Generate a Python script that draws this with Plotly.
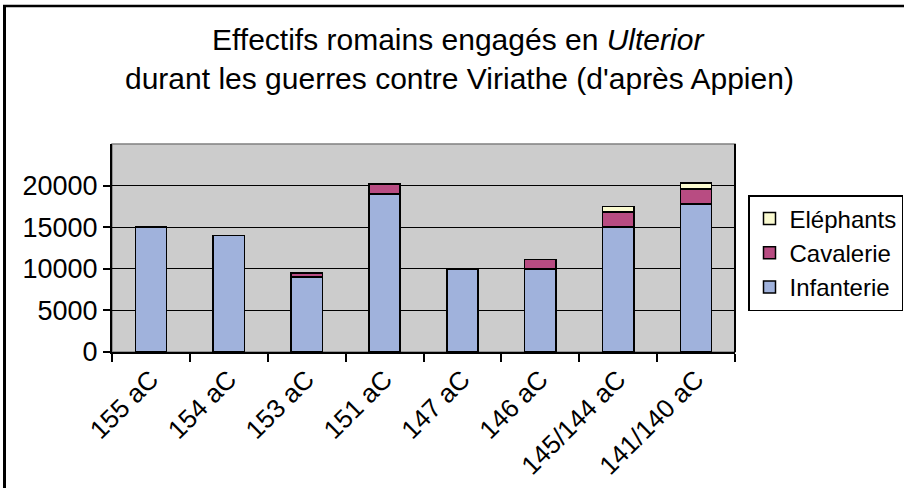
import plotly.graph_objects as go

categories = ["155 aC", "154 aC", "153 aC", "151 aC", "147 aC", "146 aC", "145/144 aC", "141/140 aC"]
infanterie = [15000, 14000, 9000, 19000, 10000, 10000, 15000, 17800]
cavalerie = [0, 0, 500, 1200, 0, 1100, 1800, 1800]
elephants = [0, 0, 0, 0, 0, 0, 700, 700]
y_ticks = [0, 5000, 10000, 15000, 20000]
y_tick_labels = ["0", "5000", "10000", "15000", "20000"]

FONT = "Liberation Sans, Arial, sans-serif"
L, R, T, B = 112, 735, 144, 352
W, H = 904, 488
pw, ph = R - L, B - T

def px_x(x):
    return (x - L) / pw

def px_y(y):
    return (B - y) / ph

fig = go.Figure()
line = dict(color="black", width=1.5)
fig.add_trace(go.Bar(x=categories, y=infanterie, name="Infanterie",
                     marker=dict(color="#A0B2DC", line=line)))
fig.add_trace(go.Bar(x=categories, y=cavalerie, name="Cavalerie",
                     marker=dict(color="#B84C82", line=line)))
fig.add_trace(go.Bar(x=categories, y=elephants, name="Eléphants",
                     marker=dict(color="#FAFAD0", line=line)))

fig.update_layout(
    width=W, height=H,
    margin=dict(l=L, r=W - R, t=T, b=H - B, autoexpand=False),
    paper_bgcolor="white",
    plot_bgcolor="#CCCCCC",
    barmode="stack",
    bargap=0.6,
    font=dict(family=FONT, size=24, color="black"),
    showlegend=True,
    legend=dict(
        x=px_x(748), y=px_y(195), xanchor="left", yanchor="top",
        traceorder="reversed",
        bordercolor="black", borderwidth=1.5, bgcolor="white",
        font=dict(family=FONT, size=24, color="black"),
        itemwidth=30,
    ),
    xaxis=dict(
        type="category", tickson="boundaries", ticks="outside", ticklen=8,
        tickcolor="black", tickwidth=1.5, tickangle=-45, automargin=False,
        showline=True, linecolor="black", linewidth=1.5, showgrid=False,
        tickfont=dict(family=FONT, size=26),
    ),
    yaxis=dict(
        range=[0, 25000], tickvals=y_ticks, ticktext=y_tick_labels,
        ticks="outside", ticklen=7, automargin=False,
        tickcolor="black", tickwidth=1.5,
        showline=True, linecolor="black", linewidth=2,
        showgrid=True, gridcolor="black", gridwidth=1,
        zeroline=False, tickfont=dict(family=FONT, size=27),
    ),
    annotations=[
        dict(text="Effectifs romains engagés en <i>Ulterior</i>", xref="paper", yref="paper",
             x=px_x(458), y=px_y(39), xanchor="center", yanchor="middle",
             showarrow=False, font=dict(family=FONT, size=30)),
        dict(text="durant les guerres contre Viriathe (d'après Appien)", xref="paper", yref="paper",
             x=px_x(459), y=px_y(78), xanchor="center", yanchor="middle",
             showarrow=False, font=dict(family=FONT, size=30)),
    ],
    shapes=[
        dict(type="rect", xref="paper", yref="paper", x0=0, x1=1, y0=0, y1=1,
             line=dict(color="#808080", width=1.5), layer="below"),
        dict(type="line", xref="paper", yref="paper", x0=1, x1=1, y0=0, y1=1,
             line=dict(color="black", width=2)),
        dict(type="line", xref="paper", yref="paper", x0=px_x(4.5), x1=px_x(4.5), y0=px_y(6), y1=px_y(500),
             line=dict(color="black", width=3)),
        dict(type="line", xref="paper", yref="paper", x0=px_x(3), x1=px_x(910), y0=px_y(6), y1=px_y(6),
             line=dict(color="black", width=2.5)),
    ],
)

fig.write_html("out.html", config={"displayModeBar": False},
               post_script="document.body.style.margin='0';")
